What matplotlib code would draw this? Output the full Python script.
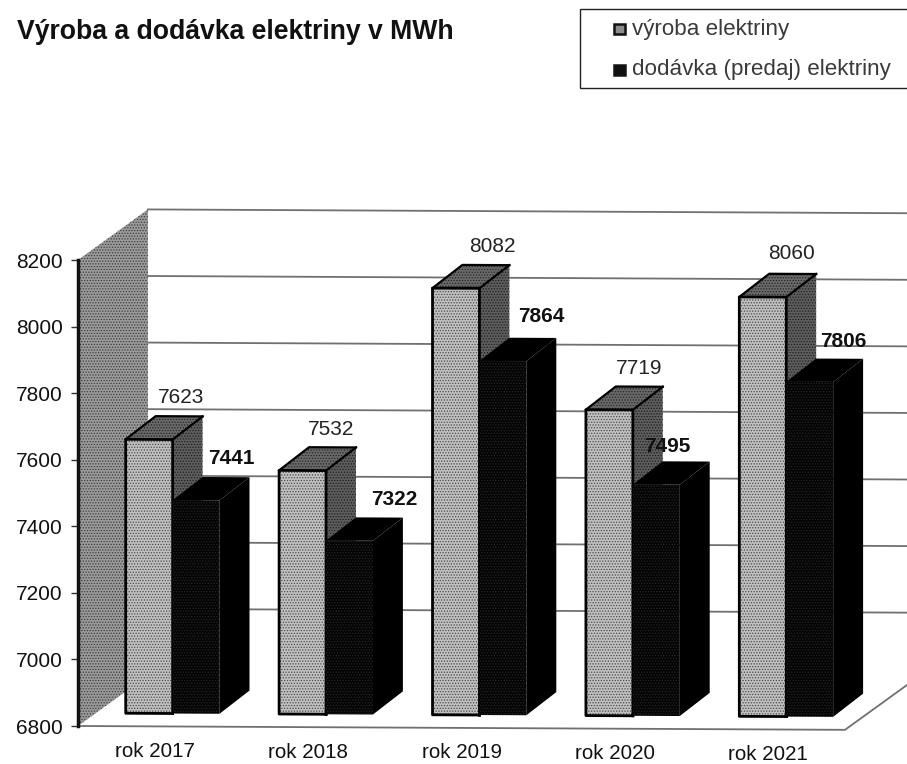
import matplotlib
matplotlib.use('Agg')
import matplotlib.pyplot as plt
from matplotlib.patches import Rectangle
from matplotlib.transforms import Affine2D

plt.rcParams['font.family'] = ['Liberation Sans', 'DejaVu Sans']
plt.rcParams['hatch.linewidth'] = 0.6

years = ['rok 2017', 'rok 2018', 'rok 2019', 'rok 2020', 'rok 2021']
vyroba = [7623, 7532, 8082, 7719, 8060]
dodavka = [7441, 7322, 7864, 7495, 7806]
series = ['výroba elektriny', 'dodávka (predaj) elektriny']
yticks = [6800, 7000, 7200, 7400, 7600, 7800, 8000, 8200]

# posun popiskov v pixeloch, v povodnom grafe su rucne posunute
off_light = [(2, 19), (-1, 18), (6, 19), (0, 18), (-1, 20)]
off_dark = [(5, 19), (15, 18), (8, 21), (-19, 15), (4, 17)]

fig = plt.figure(figsize=(9.07, 7.64), dpi=100)
W, H = 907.0, 764.0
ax = fig.add_axes((78 / W, (H - 726) / H, 767 / W, 466 / H))
ax.set_xlim(0, 5)
ax.set_ylim(6800, 8200)
ax.set_autoscale_on(False)

# sken je mierne pootoceny
tr = ax.transData + Affine2D().translate(-78, 0).skew(0, -0.005).translate(78, 0)

wall_dx, wall_dy = 0.456, 153      # hlbka steny
bar_dx, bar_dy = 0.195, 70         # hlbka stlpca
lift = 39                          # stlpce stoja kusok za prednou hranou
bw = 0.306
shift = 0.117


def poly(xs, ys, fc, hc=None, z=2):
    ax.fill(xs, ys, facecolor=fc, edgecolor=hc if hc else fc, hatch='......' if hc else None,
            linewidth=0, transform=tr, clip_on=False, zorder=z)


# bocna stena a mriezka
poly([0, wall_dx, wall_dx, 0], [8200, 8200 + wall_dy, 6800 + wall_dy, 6800], '#9a9a9a', '#3c3c3c', 1)
for t in yticks[1:]:
    ax.plot([wall_dx, 5 + wall_dx], [t + wall_dy, t + wall_dy], color='#707070', lw=1.3,
            transform=tr, clip_on=False, zorder=1)
# podlaha
ax.plot([0, 5, 5 + wall_dx], [6800, 6800, 6800 + wall_dy], color='#707070', lw=1.3,
        transform=tr, clip_on=False, zorder=1)


def draw_bar(x, val, fc, hc, side, top, outline, z):
    base = 6800 + lift
    h = val + lift
    poly([x + bw, x + bw + bar_dx, x + bw + bar_dx, x + bw],
         [base, base + bar_dy, h + bar_dy, h], side[0], side[1], z)
    poly([x, x + bar_dx, x + bw + bar_dx, x + bw], [h, h + bar_dy, h + bar_dy, h], top[0], top[1], z)
    ax.bar(x, h - base, bw, bottom=base, align='edge', facecolor=fc, edgecolor=hc, hatch='......',
           linewidth=0, transform=tr, clip_on=False, zorder=z)
    if outline:
        ax.plot([x + bw, x + bw + bar_dx], [h, h + bar_dy], color='k', lw=1.6,
                transform=tr, clip_on=False, zorder=z)
        ax.plot([x, x + bar_dx, x + bw + bar_dx], [h, h + bar_dy, h + bar_dy], color='k', lw=1.6,
                transform=tr, clip_on=False, zorder=z)
        ax.plot([x + bw, x, x, x + bw, x + bw], [base, base, h, h, base], color='k', lw=2,
                transform=tr, clip_on=False, zorder=z)


for i in range(len(years)):
    x1 = i + 0.5 + shift - bw
    x2 = i + 0.5 + shift
    z = 3 + i
    draw_bar(x1, vyroba[i], '#c0c0c0', '#4a4a4a', ('#5e5e5e', '#1c1c1c'), ('#6a6a6a', '#222222'), True, z)
    draw_bar(x2, dodavka[i], '#040404', '#262626', ('#000000', None), ('#000000', None), False, z)
    ax.annotate(str(vyroba[i]), (x1 + bw / 2 + bar_dx, vyroba[i] + lift + bar_dy), xycoords=tr, xytext=off_light[i],
                textcoords='offset pixels', ha='center', va='center', fontsize=15, color='#222222', zorder=20)
    ax.annotate(str(dodavka[i]), (x2 + bw / 2 + bar_dx, dodavka[i] + lift + bar_dy), xycoords=tr, xytext=off_dark[i],
                textcoords='offset pixels', ha='center', va='center', fontsize=15, fontweight='bold',
                color='#111111', zorder=20)
    ax.text(i + 0.5, 6800, years[i], transform=tr + Affine2D().translate(0, -25), ha='center', va='center',
            fontsize=14.8, color='#111111')

for s in ['top', 'right', 'bottom']:
    ax.spines[s].set_visible(False)
ax.spines['left'].set_linewidth(2.5)
ax.spines['left'].set_color('#111111')
ax.set_xticks([])
ax.set_yticks(yticks)
ax.set_yticklabels([str(t) for t in yticks], fontsize=15, color='#111111')
ax.tick_params(axis='y', length=5, width=1, pad=6, color='#333333')
ax.patch.set_visible(False)

fig.text(17 / W, 1 - 32 / H, 'Výroba a dodávka elektriny v MWh', fontsize=19.2, fontweight='bold',
         ha='left', va='center', color='#111111')

# legenda
fig.add_artist(Rectangle((580 / W, 1 - 88 / H), 340 / W, 79 / H, transform=fig.transFigure,
                         facecolor='white', edgecolor='#222222', lw=1))
for name, y, fc in zip(series, [29, 70], ['#8c8c8c', '#111111']):
    fig.add_artist(Rectangle((614 / W, 1 - (y + 5) / H), 11 / W, 10 / H, transform=fig.transFigure,
                             facecolor=fc, edgecolor='#111111', lw=1.8))
    fig.text(632 / W, 1 - y / H, name, fontsize=16.1, ha='left', va='center', color='#3a3a3a')

fig.savefig('out.png', dpi=100)
